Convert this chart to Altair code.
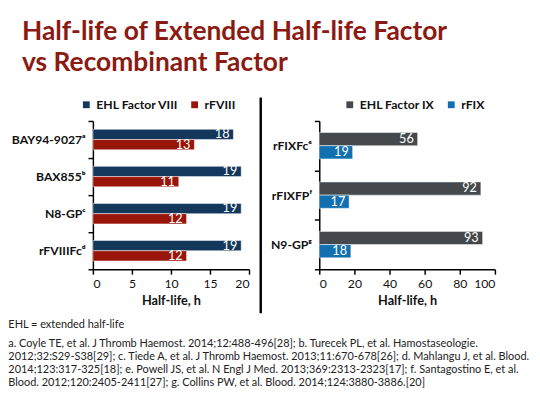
import altair as alt
import pandas as pd

# Data
fviii_products = ["BAY94-9027ᵃ", "BAX855ᵇ", "N8-GPᶜ", "rFVIIIFcᵈ"]
fviii_ehl = [18, 19, 19, 19]
fviii_rec = [13, 11, 12, 12]
fviii_series = ["EHL Factor VIII", "rFVIII"]

fix_products = ["rFIXFcᵉ", "rFIXFPᶠ", "N9-GPᵍ"]
fix_ehl = [56, 92, 93]
fix_rec = [19, 17, 18]
fix_series = ["EHL Factor IX", "rFIX"]

footnotes = [
    "a. Coyle TE, et al. J Thromb Haemost. 2014;12:488-496[28]; b. Turecek PL, et al. Hamostaseologie.",
    "2012;32:S29-S38[29]; c. Tiede A, et al. J Thromb Haemost. 2013;11:670-678[26]; d. Mahlangu J, et al. Blood.",
    "2014;123:317-325[18]; e. Powell JS, et al. N Engl J Med. 2013;369:2313-2323[17]; f. Santagostino E, et al.",
    "Blood. 2012;120:2405-2411[27]; g. Collins PW, et al. Blood. 2014;124:3880-3886.[20]",
]

FONT = "Lato"


def panel(products, ehl, rec, series, colors, xmax, xstep, width, pad_outer, legend_x, divider=False):
    df = pd.DataFrame({
        "product": products * 2,
        "series": [series[0]] * len(products) + [series[1]] * len(products),
        "value": ehl + rec,
    })
    base = alt.Chart(df).encode(
        y=alt.Y("product:N", sort=products, title=None,
                scale=alt.Scale(paddingInner=0, paddingOuter=0),
                axis=alt.Axis(tickBand="extent", labelFont=FONT, labelFontWeight="bold",
                              labelFontSize=12.5, labelColor="#111", labelPadding=3,
                              domainColor="black", domainWidth=1.5, tickColor="black",
                              tickSize=5, tickWidth=1.5)),
        yOffset=alt.YOffset("series:N", sort=series,
                            scale=alt.Scale(paddingInner=0, paddingOuter=pad_outer)),
        x=alt.X("value:Q", scale=alt.Scale(domain=[0, xmax], nice=False),
                axis=alt.Axis(values=list(range(0, xmax + 1, xstep)), grid=False,
                              title="Half-life, h", titleFont=FONT, titleFontSize=13,
                              titleFontWeight="bold", titleColor="#111", titlePadding=5,
                              labelFont=FONT, labelFontSize=12.5, labelColor="#111",
                              labelPadding=4, domainColor="black", domainWidth=1.5,
                              tickColor="black", tickSize=5, tickWidth=1.5)),
    )
    bars = base.mark_bar(stroke="white", strokeWidth=0.5).encode(
        color=alt.Color("series:N", sort=series,
                        scale=alt.Scale(domain=series, range=colors),
                        legend=alt.Legend(title=None, orient="none", direction="horizontal",
                                          legendX=legend_x, legendY=-23,
                                          symbolType="square", symbolSize=49,
                                          symbolStrokeWidth=0, labelFont=FONT,
                                          labelFontSize=12.5, labelFontWeight="bold",
                                          labelColor="#111", labelOffset=4,
                                          columnPadding=10))
    )
    labels = base.mark_text(align="right", dx=-4, color="white", font=FONT,
                            fontSize=13).encode(text="value:Q")
    layers = [bars, labels]
    if divider:
        rule_df = pd.DataFrame({"k": [0]})
        layers.append(
            alt.Chart(rule_df).mark_rule(color="black", strokeWidth=2.5).encode(
                x=alt.value(width + 12), y=alt.value(-24), y2=alt.value(197))
        )
    return alt.layer(*layers).properties(width=width, height=152)


left = panel(fviii_products, fviii_ehl, fviii_rec, fviii_series, ["#14385c", "#99150a"],
             20, 5, 160, 0.81, -13, divider=True)
right = panel(fix_products, fix_ehl, fix_rec, fix_series, ["#45494d", "#1270b0"],
              100, 20, 180, 0.875, 25)

charts = alt.hconcat(left, right, spacing=72, bounds="flush").resolve_scale(
    color="independent", yOffset="independent"
).resolve_legend(color="independent").properties(
    title=alt.TitleParams(
        text=["EHL = extended half-life"],
        subtitle=footnotes,
        orient="bottom", anchor="start", frame="bounds", dx=-3,
        font=FONT, fontSize=11.2, fontWeight="normal", color="#222",
        subtitleFont=FONT, subtitleFontSize=11.2, subtitleColor="#222",
        subtitlePadding=8, subtitleLineHeight=13.5, offset=5,
    )
)

chart = alt.vconcat(charts).properties(
    title=alt.TitleParams(
        text=["Half-life of Extended Half-life Factor", "vs Recombinant Factor"],
        anchor="start", frame="bounds", font=FONT, fontSize=27, fontWeight="bold",
        color="#8b1a12", lineHeight=32, offset=20, dx=14,
    ),
    padding={"left": 0, "top": 5, "right": 0, "bottom": 0},
).configure_view(stroke=None)

chart.save("out.html", embed_options={"renderer": "svg", "actions": False})
